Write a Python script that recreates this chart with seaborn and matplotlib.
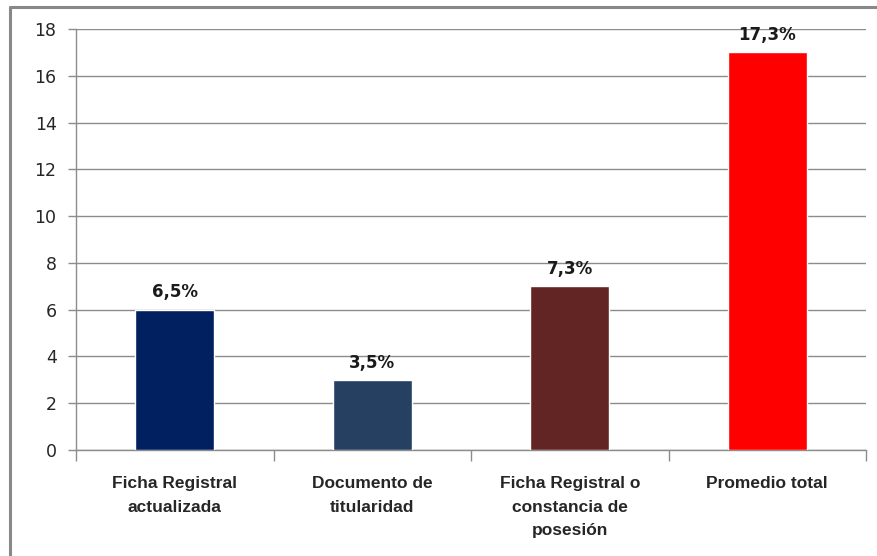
import numpy as np
import pandas as pd
import matplotlib
matplotlib.use("Agg")
import matplotlib.pyplot as plt
from matplotlib.lines import Line2D
import seaborn as sns

# data
categories = ["Ficha Registral\nactualizada", "Documento de\ntitularidad",
              "Ficha Registral o\nconstancia de\nposesión", "Promedio total"]
values = [6, 3, 7, 17]
value_labels = ["6,5%", "3,5%", "7,3%", "17,3%"]
bar_colors = ["#002060", "#254061", "#632523", "#FF0000"]
y_ticks = [0, 2, 4, 6, 8, 10, 12, 14, 16, 18]

df = pd.DataFrame({"categoria": categories, "valor": values})

sns.set_theme(style="white")
plt.rcParams["font.family"] = ["Liberation Sans Narrow", "Liberation Sans", "DejaVu Sans"]

fig = plt.figure(figsize=(8.77, 5.56), dpi=100)
ax = fig.add_axes([0.0867, 0.1906, 0.9008, 0.7572])

sns.barplot(data=df, x="categoria", y="valor", hue="categoria",
            palette=bar_colors, width=0.4, legend=False, saturation=1,
            ax=ax, zorder=3)

# value labels
for i, (v, lab) in enumerate(zip(values, value_labels)):
    ax.annotate(lab, (i, v), xytext=(0, 6), textcoords="offset points",
                ha="center", va="bottom", fontsize=12, fontweight="bold",
                family=["DejaVu Sans"], color="#1a1a1a")

ax.set_ylim(0, 18)
ax.set_xlim(-0.5, 3.5)
ax.set_yticks(y_ticks)
ax.set_yticklabels([str(t) for t in y_ticks], family=["DejaVu Sans"], fontsize=12.5)
ax.yaxis.grid(True, color="#8c8c8c", linewidth=1)
ax.set_axisbelow(True)
ax.tick_params(axis="y", left=True, length=6, width=1, color="#8c8c8c", pad=8)

ax.set_xticks(range(len(categories)))
ax.set_xticklabels(categories, fontsize=12.5, fontweight="bold", linespacing=1.7, va="top")
ax.set_xticks(np.arange(-0.5, 4, 1), minor=True)
ax.tick_params(axis="x", which="major", length=0, pad=19)
ax.tick_params(axis="x", which="minor", bottom=True, length=8, width=1, color="#8c8c8c")

ax.set_xlabel("")
ax.set_ylabel("")
for side in ["top", "right"]:
    ax.spines[side].set_visible(False)
for side in ["left", "bottom"]:
    ax.spines[side].set_color("#8c8c8c")
    ax.spines[side].set_linewidth(1)

# outer chart border (only top and left visible in the crop)
fig.add_artist(Line2D([0.0114, 1.0], [0.9874, 0.9874], color="#888888", linewidth=2.2,
                      transform=fig.transFigure))
fig.add_artist(Line2D([0.0114, 0.0114], [0.0, 0.9874], color="#888888", linewidth=2.2,
                      transform=fig.transFigure))

fig.savefig("out.png", dpi=100)
